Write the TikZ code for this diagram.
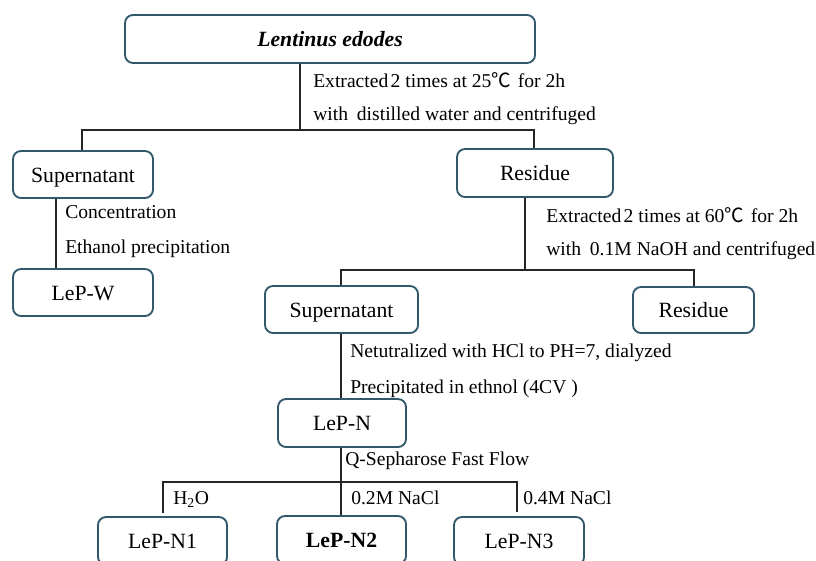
\documentclass[tikz,border=0pt]{standalone}
\usepackage{fontspec}
\setmainfont{Liberation Serif}
\newfontfamily\cjk{Noto Sans CJK SC}
\definecolor{boxline}{HTML}{31596B}
\begin{document}
\begin{tikzpicture}[x=0.75pt,y=-0.75pt,
  boxnode/.style={draw=boxline,line width=1.4pt,rounded corners=6pt,fill=white,
    font=\fontsize{16.3}{19}\selectfont,inner sep=0pt,text height=1.15em,text depth=0pt},
  wh/.style 2 args={minimum width=#1*0.75pt,minimum height=#2*0.75pt},
  lbl/.style={anchor=west,inner sep=0pt,font=\fontsize{14.7}{18}\selectfont,text height=0.85em,text depth=0pt},
  conn/.style={draw=black!85,line width=1pt}]
\useasboundingbox (0,0) rectangle (816,560);
\clip (0,0) rectangle (816,560);
% nodes
\node[boxnode,wh={410}{48}] (top) at (330,39) {\textbf{\textit{Lentinus edodes}}};
\node[boxnode,wh={140}{47}] (sup1) at (83,174.5) {Supernatant};
\node[boxnode,wh={140}{47}] (lepw) at (83,292.5) {LeP-W};
\node[boxnode,wh={156}{48}] (res1) at (535,173) {Residue};
\node[boxnode,wh={153}{47}] (sup2) at (341.5,309.5) {Supernatant};
\node[boxnode,wh={121}{46}] (res2) at (693.5,310) {Residue};
\node[boxnode,wh={128}{48}] (lepn) at (342,423) {LeP-N};
\node[boxnode,wh={129}{48}] (n1) at (162.5,541) {LeP-N1};
\node[boxnode,wh={129}{48}] (n2) at (341.5,540) {\textbf{LeP-N2}};
\node[boxnode,wh={130}{48}] (n3) at (519,541) {LeP-N3};
% junctions
\coordinate (j1) at (300,130);
\coordinate (j1l) at (82,130);
\coordinate (j1r) at (534,130);
\coordinate (ws) at (56,0);
\coordinate (j2) at (525,270);
\coordinate (j2l) at (341,270);
\coordinate (j2r) at (694,270);
\coordinate (j3) at (341,482);
\coordinate (j3l) at (163,482);
\coordinate (j3r) at (517,482);
\coordinate (e1) at (163,513);
\coordinate (e3) at (517,512);
% connectors
\draw[conn] (top.south -| j1) -- (j1);
\draw[conn] (sup1.north -| j1l) -- (j1l) -- (j1r) -- (res1.north -| j1r);
\draw[conn] (sup1.south -| ws) -- (lepw.north -| ws);
\draw[conn] (res1.south -| j2) -- (j2);
\draw[conn] (sup2.north -| j2l) -- (j2l) -- (j2r) -- (res2.north -| j2r);
\draw[conn] (sup2.south -| j2l) -- (lepn.north -| j2l);
\draw[conn] (lepn.south -| j3) -- (j3);
\draw[conn] (e1) -- (j3l) -- (j3r) -- (e3);
\draw[conn] (j3) -- (n2.north -| j3);
% labels
\node[lbl] (t1a) at (313,82) {Extracted\hspace{0.12em}2 times at 25{\cjk ℃}\hspace{0.1em} for 2h};
\node[lbl] (t1b) at (313,115) {with\hspace{0.45em}distilled water and centrifuged};
\node[lbl] (t2a) at (65,213) {Concentration};
\node[lbl] (t2b) at (65,248) {Ethanol precipitation};
\node[lbl] (t3a) at (546,217) {Extracted\hspace{0.12em}2 times at 60{\cjk ℃}\hspace{0.1em} for 2h};
\node[lbl] (t3b) at (546,250) {with\hspace{0.45em}0.1M NaOH and centrifuged};
\node[lbl] (t4a) at (350,352) {Netutralized with HCl to PH=7, dialyzed};
\node[lbl] (t4b) at (350,388) {Precipitated in ethnol (4CV )};
\node[lbl] (t5) at (345,460) {Q-Sepharose Fast Flow};
\node[lbl] (t6) at (173,499) {H\textsubscript{2}O};
\node[lbl] (t7) at (351,499) {0.2M NaCl};
\node[lbl] (t8) at (523,499) {0.4M NaCl};
\end{tikzpicture}
\end{document}
